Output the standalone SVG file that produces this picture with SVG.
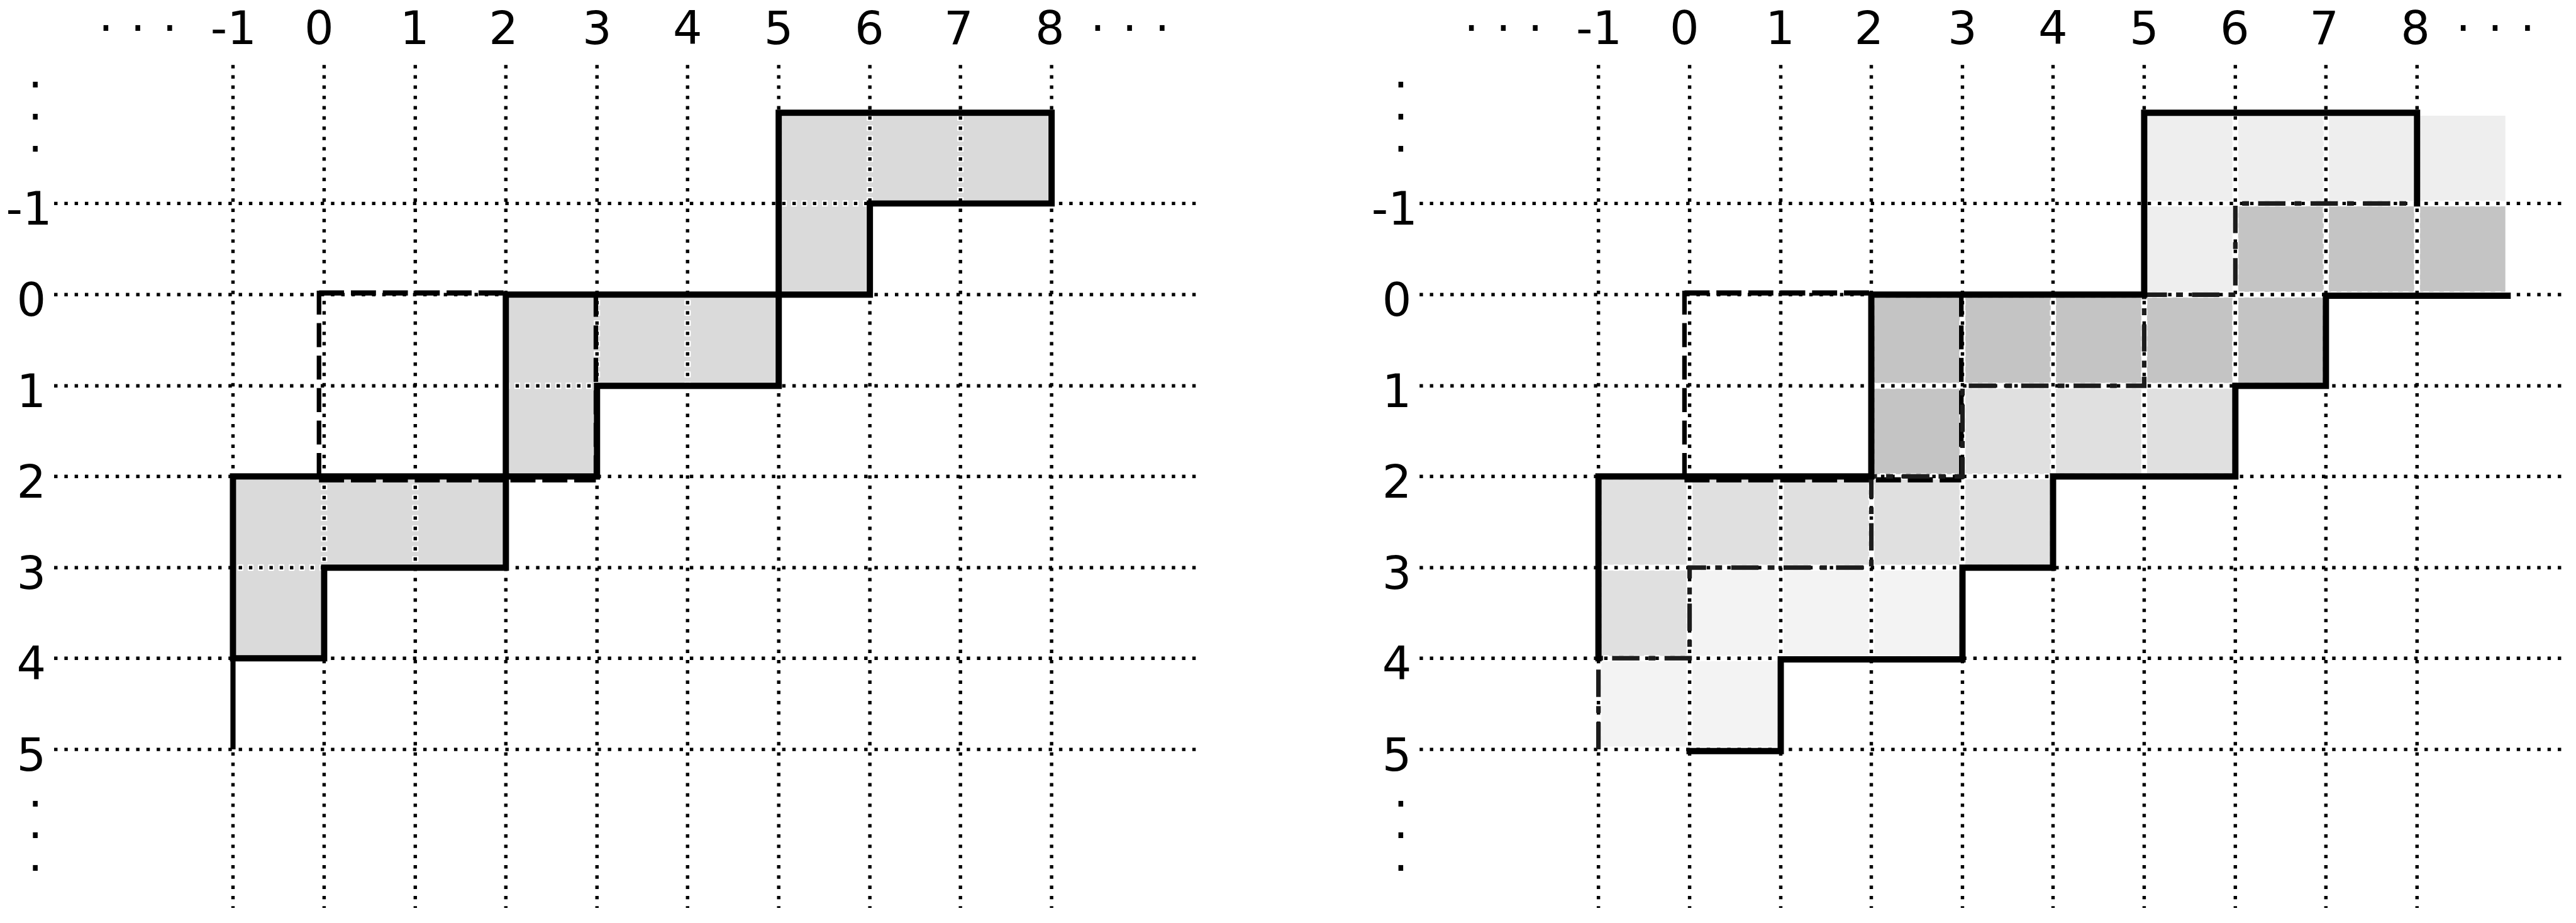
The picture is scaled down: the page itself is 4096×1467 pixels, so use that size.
<svg xmlns="http://www.w3.org/2000/svg" xmlns:xlink="http://www.w3.org/1999/xlink" width="4096" height="1467" viewBox="0 0 4096 1467">
<style>
.halo{fill:none;stroke:#fff;stroke-width:11;stroke-dasharray:10 8;stroke-dashoffset:2}
.dots{fill:none;stroke:#000;stroke-width:6;stroke-dasharray:6 12}
.solid{fill:none;stroke:#000;stroke-width:11;stroke-linejoin:miter;stroke-linecap:square}
.dash{fill:none;stroke:#000;stroke-width:9;stroke-dasharray:44 12}
.dashv{fill:none;stroke:#000;stroke-width:8;stroke-dasharray:42 15}
.dashdot{fill:none;stroke:#1c1c1c;stroke-width:8;stroke-dasharray:48 16 12 16}
.tile{fill:#dadada}
.c1{fill:#eeeeee}.c2{fill:#c4c4c4}.c3{fill:#e0e0e0}.c4{fill:#f3f3f3}
text{font-family:"DejaVu Sans","Liberation Sans",sans-serif;font-size:81px;fill:#000;text-anchor:middle}
</style>
<defs>
<path id="gridpath" d="M409,114V1593M569,114V1593M729,114V1593M888,114V1593M1048,114V1593M1207,114V1593M1367,114V1593M1527,114V1593M1686,114V1593M1846,114V1593M95,357H2105M95,517H2105M95,677H2105M95,836H2105M95,996H2105M95,1155H2105M95,1315H2105"/>
<g id="dashedrect">
<path class="dash" d="M560,514H888"/>
<path class="dashv" d="M560,510V842"/>
<path class="dashv" d="M1046,514V842"/>
<path class="dash" d="M560,842H1046"/>
</g>
</defs>
<rect width="4096" height="1467" fill="#fff"/>
<g transform="scale(0.90579)">
<g id="left-panel">
<g id="left-tiles">
<polygon class="tile" points="1373,204 1840,204 1840,351 1521,351 1521,511 1373,511"/>
<polygon class="tile" points="894,523 1361,523 1361,671 1042,671 1042,830 894,830"/>
<polygon class="tile" points="415,842 882,842 882,990 563,990 563,1149 415,1149"/>
</g>
<g id="left-grid">
<use xlink:href="#gridpath" class="halo"/>
<use xlink:href="#gridpath" class="dots"/>
</g>
<g id="left-dashed"><use xlink:href="#dashedrect"/></g>
<g id="left-outlines">
<path class="solid" d="M1367,198H1846V357H1527V517H1367Z"/>
<path class="solid" d="M888,517H1367V677H1048V836H888Z"/>
<path class="solid" d="M409,836H888V996H569V1155H409Z"/>
<path class="solid" style="stroke-width:9;stroke-linecap:butt" d="M409,1155V1315"/>
</g>
<g id="left-labels">
<text x="186 242 298" y="77">···</text>
<text x="410" y="77">-1</text>
<text x="560" y="77">0</text>
<text x="728" y="77">1</text>
<text x="884" y="77">2</text>
<text x="1048" y="77">3</text>
<text x="1207" y="77">4</text>
<text x="1367" y="77">5</text>
<text x="1526" y="77">6</text>
<text x="1683" y="77">7</text>
<text x="1843" y="77">8</text>
<text x="1927 1983 2040" y="77">···</text>
<text x="62 62 62" y="177 233 289">···</text>
<text x="51" y="394">-1</text>
<text x="55" y="554">0</text>
<text x="55" y="714">1</text>
<text x="55" y="873">2</text>
<text x="55" y="1033">3</text>
<text x="55" y="1192">4</text>
<text x="55" y="1352">5</text>
<text x="62 62 62" y="1438 1494 1551">···</text>
</g>
</g>
<g id="right-panel" transform="translate(2397,0)">
<g id="right-cells">
<rect class="c1" x="1372" y="203" width="150" height="150"/>
<rect class="c1" x="1532" y="203" width="150" height="150"/>
<rect class="c1" x="1691" y="203" width="150" height="150"/>
<rect class="c1" x="1851" y="203" width="150" height="150"/>
<rect class="c1" x="1372" y="362" width="150" height="150"/>
<rect class="c2" x="1532" y="362" width="150" height="150"/>
<rect class="c2" x="1691" y="362" width="150" height="150"/>
<rect class="c2" x="1851" y="362" width="150" height="150"/>
<rect class="c2" x="893" y="522" width="150" height="150"/>
<rect class="c2" x="1053" y="522" width="150" height="150"/>
<rect class="c2" x="1212" y="522" width="150" height="150"/>
<rect class="c2" x="1372" y="522" width="150" height="150"/>
<rect class="c2" x="1532" y="522" width="150" height="150"/>
<rect class="c2" x="893" y="682" width="150" height="150"/>
<rect class="c3" x="1053" y="682" width="150" height="150"/>
<rect class="c3" x="1212" y="682" width="150" height="150"/>
<rect class="c3" x="1372" y="682" width="150" height="150"/>
<rect class="c3" x="414" y="841" width="150" height="150"/>
<rect class="c3" x="574" y="841" width="150" height="150"/>
<rect class="c3" x="734" y="841" width="150" height="150"/>
<rect class="c3" x="893" y="841" width="150" height="150"/>
<rect class="c3" x="1053" y="841" width="150" height="150"/>
<rect class="c3" x="414" y="1001" width="150" height="150"/>
<rect class="c4" x="574" y="1001" width="150" height="150"/>
<rect class="c4" x="734" y="1001" width="150" height="150"/>
<rect class="c4" x="893" y="1001" width="150" height="150"/>
<rect class="c4" x="414" y="1160" width="150" height="150"/>
<rect class="c4" x="574" y="1160" width="150" height="150"/>
</g>
<g id="right-grid">
<use xlink:href="#gridpath" class="halo"/>
<use xlink:href="#gridpath" class="dots"/>
</g>
<g id="right-dashed"><use xlink:href="#dashedrect"/></g>
<g id="right-dashdot">
<path class="dashdot" d="M409,1315V1155H569V996H888V836H1048V677H1367V517H1527V357H1846"/>
</g>
<g id="right-outlines">
<path class="solid" d="M1846,357V198H1367V517H888V836H409V1155"/>
<path class="solid" d="M569,1318H729V1157H1048V996H1207V836H1527V677H1686V519H2005"/>
</g>
<g id="right-labels">
<text x="186 242 298" y="77">···</text>
<text x="410" y="77">-1</text>
<text x="560" y="77">0</text>
<text x="728" y="77">1</text>
<text x="884" y="77">2</text>
<text x="1048" y="77">3</text>
<text x="1207" y="77">4</text>
<text x="1367" y="77">5</text>
<text x="1526" y="77">6</text>
<text x="1683" y="77">7</text>
<text x="1843" y="77">8</text>
<text x="1927 1983 2040" y="77">···</text>
<text x="62 62 62" y="177 233 289">···</text>
<text x="51" y="394">-1</text>
<text x="55" y="554">0</text>
<text x="55" y="714">1</text>
<text x="55" y="873">2</text>
<text x="55" y="1033">3</text>
<text x="55" y="1192">4</text>
<text x="55" y="1352">5</text>
<text x="62 62 62" y="1438 1494 1551">···</text>
</g>
</g>
</g>
</svg>
